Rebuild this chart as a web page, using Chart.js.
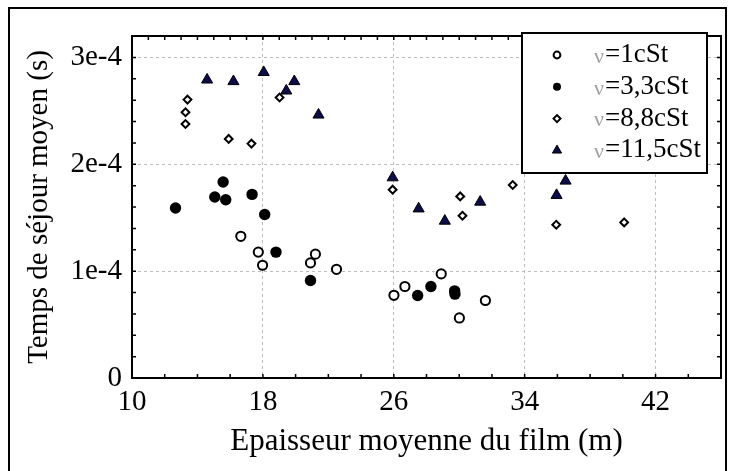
<!DOCTYPE html>
<html>
<head>
<meta charset="utf-8">
<script src="https://cdn.jsdelivr.net/npm/chart.js"></script>
<style>
html, body {margin: 0; padding: 0; background: #fff;}
</style>
</head>
<body>
<canvas id="myChart" width="735" height="471"></canvas>
<script>
const xTicks = [10, 18, 26, 34, 42]
const yTicks = [0, 1e-4, 2e-4, 3e-4]
const yTickLabels = ['0', '1e-4', '2e-4', '3e-4']
const seriesNames = ['ν=1cSt', 'ν=3,3cSt', 'ν=8,8cSt', 'ν=11,5cSt']

// nu = 1 cSt
const x1 = [16.65, 17.72, 17.98, 20.91, 21.21, 22.50, 26.01, 26.68, 28.90, 30.01, 31.60]
const y1 = [1.326e-4, 1.178e-4, 1.055e-4, 1.077e-4, 1.159e-4, 1.017e-4, 0.774e-4, 0.856e-4, 0.974e-4, 0.562e-4, 0.725e-4]
// nu = 3,3 cSt
const x2 = [12.66, 15.06, 15.57, 15.73, 17.34, 18.11, 18.80, 20.91, 27.46, 28.27, 29.72, 29.74]
const y2 = [1.590e-4, 1.694e-4, 1.834e-4, 1.668e-4, 1.718e-4, 1.530e-4, 1.178e-4, 0.912e-4, 0.772e-4, 0.856e-4, 0.815e-4, 0.785e-4]
// nu = 8,8 cSt
const x3 = [13.39, 13.27, 13.27, 15.91, 17.30, 19.02, 25.93, 30.06, 30.20, 33.27, 35.93, 40.08]
const y3 = [2.605e-4, 2.487e-4, 2.377e-4, 2.237e-4, 2.193e-4, 2.624e-4, 1.762e-4, 1.699e-4, 1.518e-4, 1.806e-4, 1.434e-4, 1.456e-4]
// nu = 11,5 cSt
const x4 = [14.59, 16.20, 18.05, 19.43, 19.92, 21.40, 25.93, 27.52, 29.12, 31.28, 35.95, 36.50]
const y4 = [2.790e-4, 2.775e-4, 2.860e-4, 2.687e-4, 2.775e-4, 2.462e-4, 1.875e-4, 1.584e-4, 1.469e-4, 1.647e-4, 1.710e-4, 1.844e-4]

function pts(xs, ys) {
    return xs.map((x, i) => ({x: x, y: ys[i]}))
}

const serif = "'Liberation Serif', 'Times New Roman', serif"

const styles = [
    {pointStyle: 'circle', radius: 4.6, borderWidth: 2, backgroundColor: '#fff', borderColor: '#000', legendRadius: 3.4},
    {pointStyle: 'circle', radius: 5.7, borderWidth: 0, backgroundColor: '#000', borderColor: '#000', legendRadius: 4},
    {pointStyle: 'rectRot', radius: 3.9, borderWidth: 2, backgroundColor: '#fff', borderColor: '#000', legendRadius: 3.5},
    {pointStyle: 'triangle', radius: 6.4, borderWidth: 1, backgroundColor: '#0c0c4a', borderColor: '#000', legendRadius: 5.3}
]

const allData = [pts(x1, y1), pts(x2, y2), pts(x3, y3), pts(x4, y4)]

const datasets = allData.map((d, i) => ({
    label: seriesNames[i],
    data: d,
    pointStyle: styles[i].pointStyle,
    pointRadius: styles[i].radius,
    pointHoverRadius: styles[i].radius,
    pointBorderWidth: styles[i].borderWidth,
    pointBackgroundColor: styles[i].backgroundColor,
    pointBorderColor: styles[i].borderColor,
    showLine: false
}))

function drawMarker(ctx, st, r, x, y) {
    if (Chart.helpers && Chart.helpers.drawPoint) {
        ctx.save()
        ctx.fillStyle = st.backgroundColor
        ctx.strokeStyle = st.borderColor
        ctx.lineWidth = st.borderWidth
        Chart.helpers.drawPoint(ctx, {pointStyle: st.pointStyle, radius: r, rotation: 0, borderWidth: st.borderWidth}, x, y)
        ctx.restore()
    }
}

const framePlugin = {
    id: 'frame',
    afterDraw(chart) {
        const ctx = chart.ctx
        const a = chart.chartArea
        const xs = chart.scales.x
        const ys = chart.scales.y
        ctx.save()
        // outer frame
        ctx.strokeStyle = '#000'
        ctx.lineWidth = 2
        ctx.strokeRect(9, 8, 717, 480)
        // minor ticks
        ctx.lineWidth = 1.5
        ctx.beginPath()
        for (let v = 12; v < 46; v += 2) {
            const px = xs.getPixelForValue(v)
            ctx.moveTo(px, a.bottom)
            ctx.lineTo(px, a.bottom - 4)
        }
        for (let v = 11; v < 46; v += 1) {
            const px = xs.getPixelForValue(v)
            ctx.moveTo(px, a.top)
            ctx.lineTo(px, a.top + 4)
        }
        for (let k = 1; k < 16; k++) {
            const py = ys.getPixelForValue(k * 2e-5)
            ctx.moveTo(a.left, py)
            ctx.lineTo(a.left + 4, py)
            ctx.moveTo(a.right, py)
            ctx.lineTo(a.right - 4, py)
        }
        ctx.stroke()
        // plot box
        ctx.lineWidth = 2
        ctx.strokeRect(a.left, a.top, a.right - a.left, a.bottom - a.top)

        // legend
        const lx = 522, ly = 33, lw = 185, lh = 140
        ctx.fillStyle = '#fff'
        ctx.fillRect(lx, ly, lw, lh)
        ctx.strokeRect(lx, ly, lw, lh)
        ctx.textBaseline = 'middle'
        seriesNames.forEach((name, i) => {
            const cy = 55 + i * 31.8
            drawMarker(ctx, styles[i], styles[i].legendRadius, 557, cy)
            ctx.font = '22px ' + serif
            ctx.fillStyle = '#a0a0a0'
            ctx.fillText(name.charAt(0), 594, cy + 2)
            const w = ctx.measureText(name.charAt(0)).width
            ctx.font = '27px ' + serif
            ctx.fillStyle = '#000'
            ctx.fillText(name.slice(1), 594 + w + 1, cy)
        })
        ctx.restore()
    }
}

var ctx = document.getElementById('myChart').getContext('2d')
var myChart = new Chart(ctx, {
    type: 'scatter',
    data: {datasets: datasets},
    options: {
        responsive: false,
        animation: false,
        events: [],
        layout: {padding: {top: 36, right: 14, left: 0, bottom: 0}},
        plugins: {
            legend: {display: false},
            tooltip: {enabled: false}
        },
        scales: {
            x: {
                type: 'linear',
                min: 10,
                max: 46,
                afterBuildTicks: (scale) => { scale.ticks = xTicks.map(v => ({value: v})) },
                afterFit: (scale) => { scale.height = 93 },
                ticks: {
                    color: '#000',
                    padding: 7,
                    maxRotation: 0,
                    font: {family: serif, size: 29},
                    callback: (v) => String(v)
                },
                grid: {color: '#bdbdbd', lineWidth: 1, drawTicks: false},
                border: {display: false, dash: [3, 3]},
                title: {
                    display: true,
                    text: 'Epaisseur moyenne du film (m)',
                    color: '#000',
                    font: {family: serif, size: 31},
                    padding: {top: 0, bottom: 11}
                }
            },
            y: {
                type: 'linear',
                min: 0,
                max: 3.2e-4,
                afterBuildTicks: (scale) => { scale.ticks = yTicks.map(v => ({value: v})) },
                afterFit: (scale) => { scale.width = 132 },
                ticks: {
                    color: '#000',
                    padding: 10,
                    font: {family: serif, size: 29},
                    callback: (v, i) => yTickLabels[yTicks.indexOf(v)] ?? ''
                },
                grid: {color: '#bdbdbd', lineWidth: 1, drawTicks: false},
                border: {display: false, dash: [3, 3]},
                title: {
                    display: true,
                    text: 'Temps de séjour moyen (s)',
                    color: '#000',
                    font: {family: serif, size: 29},
                    padding: {top: 22, bottom: 0}
                }
            }
        }
    },
    plugins: [framePlugin]
})
</script>
</body>
</html>
